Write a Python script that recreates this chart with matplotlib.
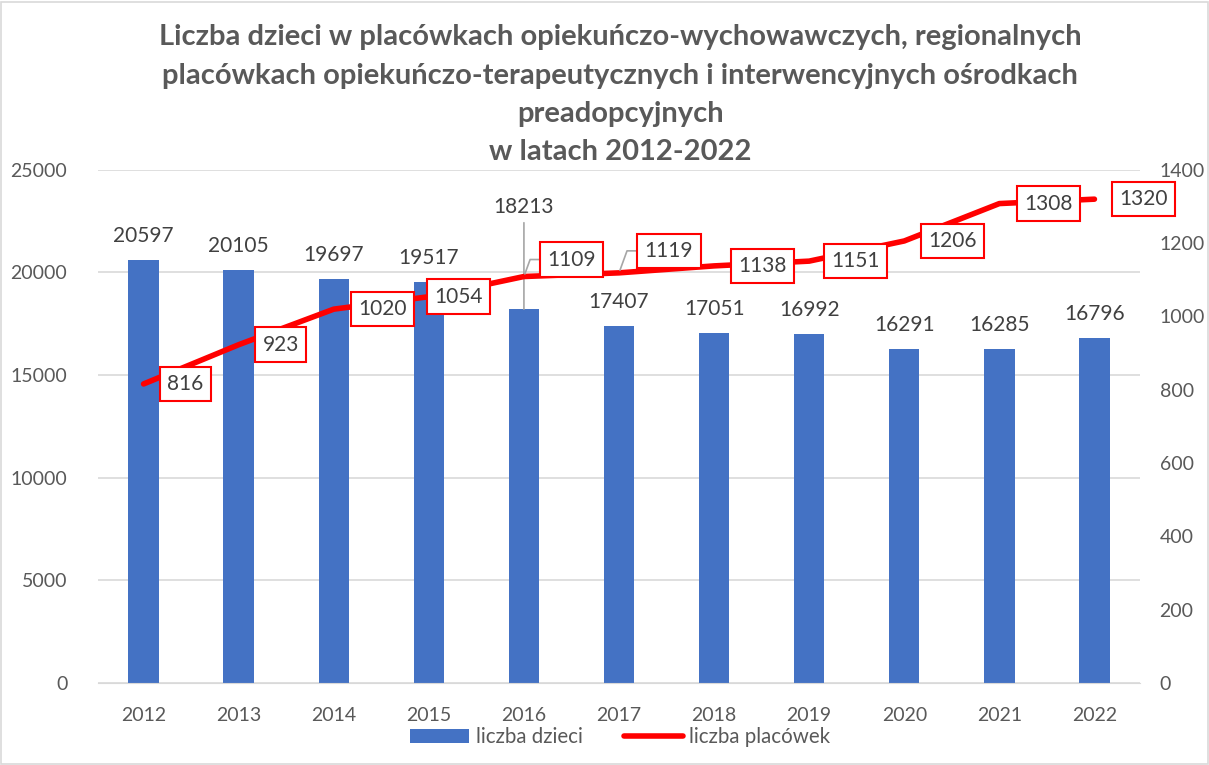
import numpy as np
import matplotlib.pyplot as plt
from matplotlib.patches import Rectangle

plt.rcParams['font.family'] = ['Lato', 'DejaVu Sans']

# Dane
lata = ['2012', '2013', '2014', '2015', '2016', '2017', '2018', '2019', '2020', '2021', '2022']
dzieci = [20597, 20105, 19697, 19517, 18213, 17407, 17051, 16992, 16291, 16285, 16796]
placowki = [816, 923, 1020, 1054, 1109, 1119, 1138, 1151, 1206, 1308, 1320]

# przesuniecia etykiet linii (piksele)
off_plac = [(42, 0), (42, 0), (49, 0), (30, 0), (48, 17), (50, 22), (48, 0), (46, 0), (48, 0), (49, 0), (49, 0)]

szary = '#595959'
fig = plt.figure(figsize=(12.09, 7.65), dpi=100)
ax = fig.add_axes([0.081, 0.107, 0.862, 0.671])
ax2 = ax.twinx()

x = np.arange(len(lata))
ax.bar(x, dzieci, width=0.32, color='#4472C4', label='liczba dzieci', zorder=2)
ax.set_ylim(0, 25000)
ax.set_yticks(np.arange(0, 25001, 5000))
ax.set_xlim(-0.48, len(lata) - 0.52)
ax.set_xticks(x)
ax.set_xticklabels(lata)
ax.grid(axis='y', color='#D9D9D9', linewidth=1.2, zorder=0)
ax.set_axisbelow(True)
for s in ['top', 'left', 'right']:
    ax.spines[s].set_visible(False)
ax.spines['bottom'].set_color('#D9D9D9')
ax.tick_params(axis='both', length=0, labelsize=14, labelcolor=szary, pad=17)
ax.tick_params(axis='y', pad=22)

for i, v in enumerate(dzieci):
    if lata[i] == '2016':
        ax.annotate(str(v), (i, v), xytext=(0, 92), textcoords='offset pixels',
                    ha='center', va='bottom', fontsize=15, color='#404040',
                    arrowprops=dict(arrowstyle='-', color='#A6A6A6', lw=1.2, shrinkA=2, shrinkB=0))
    else:
        ax.annotate(str(v), (i, v), xytext=(0, 14), textcoords='offset pixels',
                    ha='center', va='bottom', fontsize=15, color='#404040')

ax2.plot(x, placowki, color='#FF0000', linewidth=4, solid_capstyle='round',
         solid_joinstyle='round', label='liczba placówek', zorder=3)
ax2.set_ylim(0, 1400)
ax2.set_yticks(np.arange(0, 1401, 200))
for s in ['top', 'left', 'right', 'bottom']:
    ax2.spines[s].set_visible(False)
ax2.tick_params(axis='y', length=0, labelsize=14, labelcolor=szary, pad=14)

for i, v in enumerate(placowki):
    dx, dy = off_plac[i]
    ap = None
    if dy != 0:
        ap = dict(arrowstyle='-', color='#A6A6A6', lw=1.2, shrinkA=0, shrinkB=2,
                  connectionstyle='angle,angleA=0,angleB=70,rad=0')
    ax2.annotate(str(v), (i, v), xytext=(dx, dy), textcoords='offset pixels',
                 ha='center', va='center', fontsize=15, color='#404040',
                 bbox=dict(boxstyle='square,pad=0.35', fc='white', ec='#FF0000', lw=1.5),
                 arrowprops=ap, zorder=5)

fig.suptitle('Liczba dzieci w placówkach opiekuńczo-wychowawczych, regionalnych\n'
             'placówkach opiekuńczo-terapeutycznych i interwencyjnych ośrodkach\n'
             'preadopcyjnych\nw latach 2012-2022',
             x=0.513, y=0.968, va='top', fontsize=21, fontweight='bold', color=szary,
             linespacing=1.58)

h1, l1 = ax.get_legend_handles_labels()
h2, l2 = ax2.get_legend_handles_labels()
fig.legend(h1 + h2, l1 + l2, loc='center', bbox_to_anchor=(0.513, 0.036), ncol=2,
           frameon=False, fontsize=14.8, labelcolor=szary, handlelength=2.9,
           handletextpad=0.3, columnspacing=2.0)

fig.patches.append(Rectangle((0.001, 0.001), 0.998, 0.997, transform=fig.transFigure,
                             fill=False, ec='#D9D9D9', lw=1.2))

fig.savefig('out.png', dpi=100)
